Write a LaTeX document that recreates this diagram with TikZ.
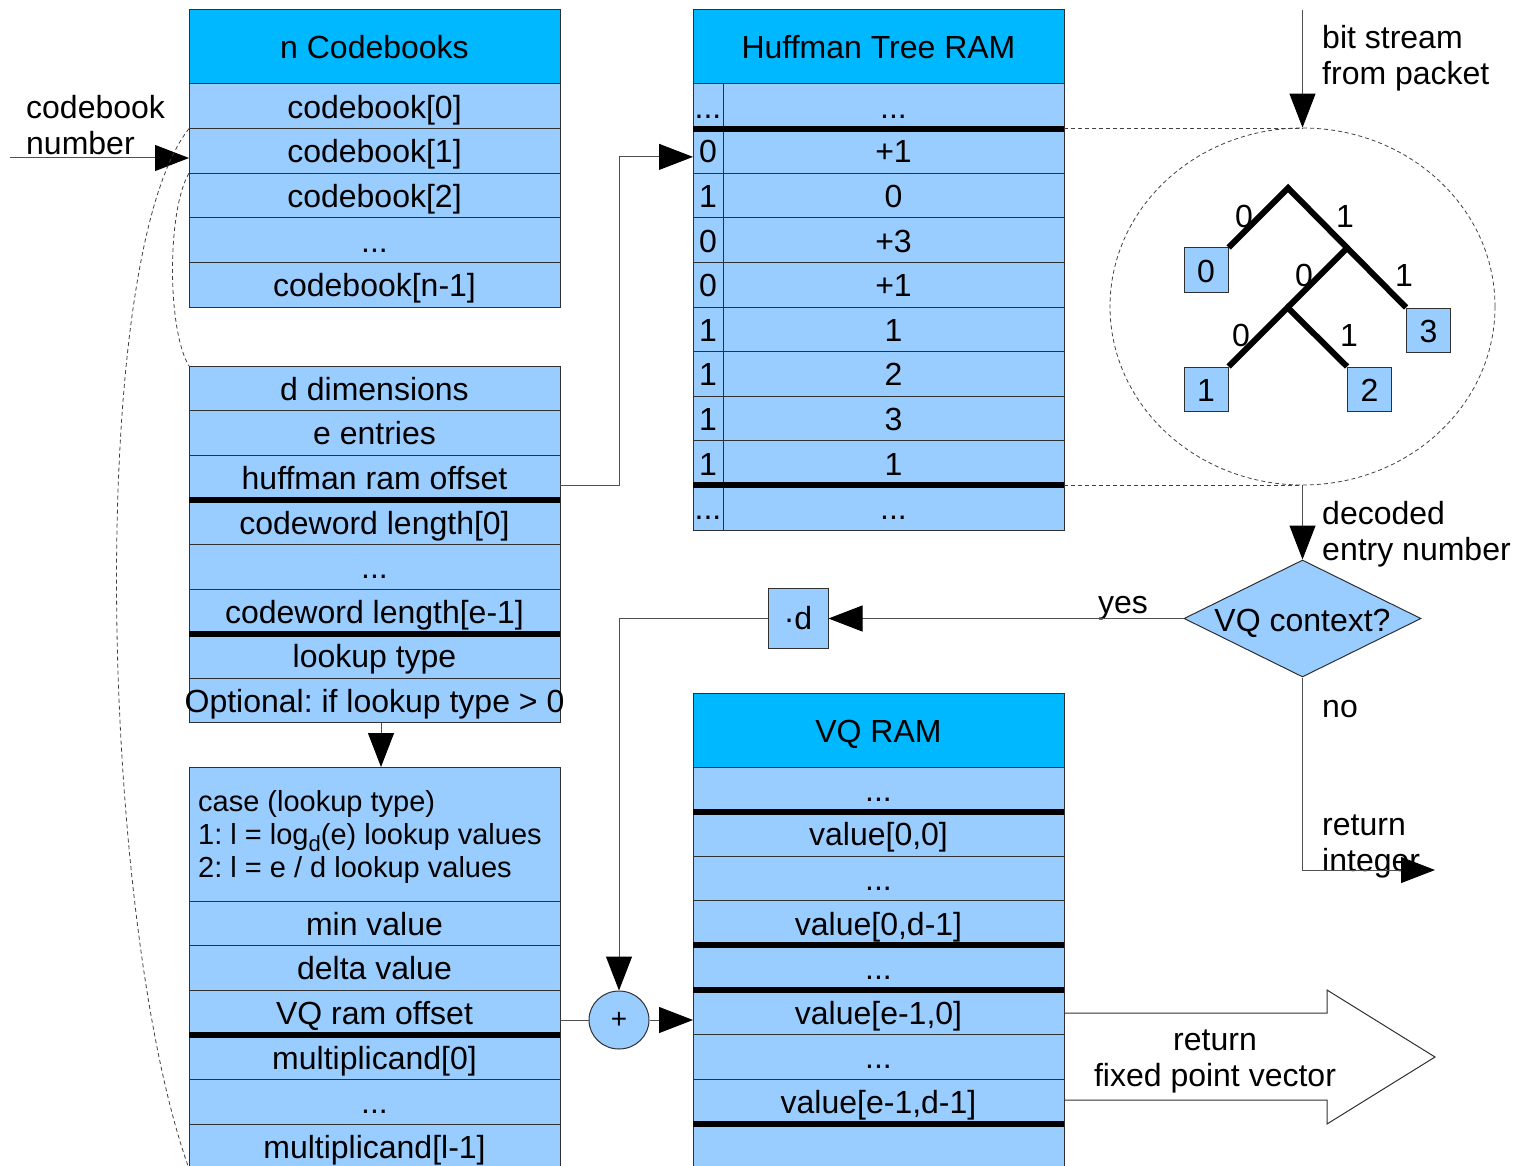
\documentclass[tikz,border=0pt]{standalone}
\usepackage{fontspec}
\setmainfont{Liberation Sans}
\frenchspacing
\usetikzlibrary{arrows.meta,shapes.geometric}
\definecolor{headc}{HTML}{00B8FF}
\definecolor{rowc}{HTML}{99CCFF}
\definecolor{linec}{HTML}{303030}
\definecolor{connc}{HTML}{505050}
\newcommand\cellnode[6]{\node[cell, minimum width=#4pt, minimum height=#5pt] (#1) at (#2,#3) {#6};}
\newcommand\sepline[2]{\draw[sepbar] (#1.south west) -- (#2.south east);}
\begin{document}
\begin{tikzpicture}[x=1pt,y=-1pt,
  every node/.style={font=\fontsize{32}{36}\selectfont, text=black},
  cell/.style={draw=linec, line width=1pt, fill=rowc, inner sep=0pt, outer sep=0pt, anchor=north west, text height=27pt, text depth=3pt},
  headcell/.style={cell, fill=headc},
  sepbar/.style={line width=6pt, black, line cap=butt},
  conn/.style={draw=connc, line width=1pt},
  arr/.style={-{Triangle[length=34pt,width=26pt,color=black,fill=black]}},
  dashln/.style={draw=black!75, line width=0.8pt, dash pattern=on 4pt off 3pt},
  lbl/.style={inner sep=0pt, align=left},
  leaf/.style={draw=linec, line width=1pt, fill=rowc, inner sep=0pt, minimum width=44pt, minimum height=44pt, text height=26pt, text depth=2pt},
  branch/.style={line width=6pt, black},
]
\useasboundingbox (0,0) rectangle (1514,1166);

% ---------- n Codebooks ----------
\node[headcell, minimum width=371pt, minimum height=74pt] (cbh) at (189,10) {n Codebooks};
\cellnode{cb0}{189}{84}{371}{44.6}{codebook[0]}
\cellnode{cb1}{189}{128.6}{371}{44.6}{codebook[1]}
\cellnode{cb2}{189}{173.2}{371}{44.6}{codebook[2]}
\cellnode{cb3}{189}{217.8}{371}{44.6}{...}
\cellnode{cb4}{189}{262.4}{371}{44.6}{codebook[n-1]}

% ---------- codebook details ----------
\cellnode{dd0}{189}{366}{371}{44.6}{d dimensions}
\cellnode{dd1}{189}{410.6}{371}{44.6}{e entries}
\cellnode{dd2}{189}{455.2}{371}{44.6}{huffman ram offset}
\cellnode{dd3}{189}{499.8}{371}{44.6}{codeword length[0]}
\cellnode{dd4}{189}{544.4}{371}{44.6}{...}
\cellnode{dd5}{189}{589}{371}{44.6}{codeword length[e-1]}
\cellnode{dd6}{189}{633.6}{371}{44.6}{lookup type}
\cellnode{dd7}{189}{678.2}{371}{44.6}{\makebox[0pt]{Optional: if lookup type > 0}}
\sepline{dd2}{dd2}
\sepline{dd5}{dd5}

% ---------- lookup table ----------
\cellnode{t0}{189}{767}{371}{134}{}
\node[lbl, anchor=west, font=\fontsize{29}{33}\selectfont] (casetxt) at (198,837)
  {case (lookup type)\\1: l = log\raisebox{-7pt}{\fontsize{22}{22}\selectfont d}(e) lookup values\\2: l = e / d lookup values};
\cellnode{t1}{189}{901}{371}{44.6}{min value}
\cellnode{t2}{189}{945.6}{371}{44.6}{delta value}
\cellnode{t3}{189}{990.2}{371}{44.6}{VQ ram offset}
\cellnode{t4}{189}{1034.8}{371}{44.6}{multiplicand[0]}
\cellnode{t5}{189}{1079.4}{371}{44.6}{...}
\cellnode{t6}{189}{1124}{371}{44.6}{multiplicand[l-1]}
\sepline{t3}{t3}

% ---------- Huffman Tree RAM ----------
\node[headcell, minimum width=371pt, minimum height=74pt] (hh) at (693,10) {Huffman Tree RAM};
\cellnode{hl0}{693}{84}{30}{44.6}{...}
\cellnode{hr0}{723}{84}{341}{44.6}{...}
\cellnode{hl1}{693}{128.6}{30}{44.6}{0}
\cellnode{hr1}{723}{128.6}{341}{44.6}{+1}
\cellnode{hl2}{693}{173.2}{30}{44.6}{1}
\cellnode{hr2}{723}{173.2}{341}{44.6}{0}
\cellnode{hl3}{693}{217.8}{30}{44.6}{0}
\cellnode{hr3}{723}{217.8}{341}{44.6}{+3}
\cellnode{hl4}{693}{262.4}{30}{44.6}{0}
\cellnode{hr4}{723}{262.4}{341}{44.6}{+1}
\cellnode{hl5}{693}{307}{30}{44.6}{1}
\cellnode{hr5}{723}{307}{341}{44.6}{1}
\cellnode{hl6}{693}{351.6}{30}{44.6}{1}
\cellnode{hr6}{723}{351.6}{341}{44.6}{2}
\cellnode{hl7}{693}{396.2}{30}{44.6}{1}
\cellnode{hr7}{723}{396.2}{341}{44.6}{3}
\cellnode{hl8}{693}{440.8}{30}{44.6}{1}
\cellnode{hr8}{723}{440.8}{341}{44.6}{1}
\cellnode{hl9}{693}{485.4}{30}{44.6}{...}
\cellnode{hr9}{723}{485.4}{341}{44.6}{...}
\sepline{hl0}{hr0}
\sepline{hl8}{hr8}

% ---------- VQ RAM ----------
\node[headcell, minimum width=371pt, minimum height=74pt] (vh) at (693,693) {VQ RAM};
\cellnode{v0}{693}{767}{371}{44.6}{...}
\cellnode{v1}{693}{811.6}{371}{44.6}{value[0,0]}
\cellnode{v2}{693}{856.2}{371}{44.6}{...}
\cellnode{v3}{693}{900.8}{371}{44.6}{value[0,d-1]}
\cellnode{v4}{693}{945.4}{371}{44.6}{...}
\cellnode{v5}{693}{990}{371}{44.6}{value[e-1,0]}
\cellnode{v6}{693}{1034.6}{371}{44.6}{...}
\cellnode{v7}{693}{1079.2}{371}{44.6}{value[e-1,d-1]}
\cellnode{v8}{693}{1123.8}{371}{44.6}{}
\sepline{v0}{v0}
\sepline{v3}{v3}
\sepline{v4}{v4}
\sepline{v7}{v7}

% ---------- tree ----------
\node[ellipse, dashln, minimum width=385pt, minimum height=357pt, inner sep=0pt] (treecirc) at (1302.5,306.5) {};
\node[leaf] (lf0) at (1206,270) {0};
\node[leaf] (lf3) at (1428.5,330) {3};
\node[leaf] (lf1) at (1206,389) {1};
\node[leaf] (lf2) at (1369.5,389) {2};
\coordinate (troot) at (1288,188);
\coordinate (tmid) at (1347.5,247.5);
\coordinate (tsub) at (1287.5,307.5);
\draw[branch] (lf0.north east) -- (troot) -- (lf3.north west);
\draw[branch] (tmid) -- (tsub);
\draw[branch] (lf1.north east) -- (tsub) -- (lf2.north west);
\node[lbl] (e1) at (1244,216) {0};
\node[lbl] (e2) at (1345,216) {1};
\node[lbl] (e3) at (1304,275) {0};
\node[lbl] (e4) at (1404,275) {1};
\node[lbl] (e5) at (1241,335) {0};
\node[lbl] (e6) at (1349,335) {1};

% ---------- decision and operators ----------
\node[diamond, draw=linec, line width=1pt, fill=rowc, aspect=2, inner sep=0pt, text height=26pt, text depth=1pt, minimum width=237pt, minimum height=117pt] (vqc) at (1302.5,618.5) {VQ context?};
\node[draw=linec, line width=1pt, fill=rowc, minimum width=60pt, minimum height=60pt, inner sep=0pt] (md) at (798,618.5) {·d};
\node[ellipse, draw=linec, line width=1pt, fill=rowc, minimum width=60pt, minimum height=58pt, inner sep=0pt, font=\fontsize{28}{30}\selectfont] (plus) at (619,1020) {+};

% ---------- big output arrow ----------
\draw[draw=linec, line width=1pt] (1064,1013) -- (1327,1013) -- (1327,990) -- (1435,1057) -- (1327,1124) -- (1327,1100) -- (1064,1100);
\node[lbl, align=center] (rfv) at (1215,1061) {return\\fixed point vector};

% ---------- labels ----------
\node[lbl, anchor=west] (cbnum) at (26,125) {codebook\\number};
\node[lbl, anchor=west] (bsl) at (1322,58) {bit stream\\from packet};
\node[lbl, anchor=west] (del) at (1322,534) {decoded\\entry number};
\node[lbl] (yesl) at (1123,608) {yes};
\node[lbl, anchor=west] (nol) at (1322,709) {no};
\node[lbl, anchor=west] (ril) at (1322,846) {return\\integer};

% ---------- connectors ----------
\coordinate (cbin) at (10,158);
\draw[conn, arr] (cbin) -- (cbin -| cb1.west);
\draw[dashln] (cb1.north west) .. controls (85,260) and (100,920) .. (t6.south west);
\draw[dashln] (cb1.south west) .. controls (167,210) and (167,330) .. (dd0.north west);
\draw[conn, arr] ([yshift=-7.5pt]dd2.east) -- ++(59,0) |- ([yshift=-6pt]hl1.west);
\draw[dashln] (hr0.south east) -- (hr0.south east -| treecirc.north);
\draw[dashln] (hr8.south east) -- (hr8.south east -| treecirc.south);
\coordinate (bsin) at (1302.5,10);
\draw[conn, arr] (bsin) -- (treecirc.north);
\draw[conn, arr] (treecirc.south) -- (vqc.north);
\draw[conn, arr] (vqc.west) -- (md.east);
\draw[conn, arr] (md.west) -| (plus.north);
\draw[conn] (t3.east |- plus.west) -- (plus.west);
\draw[conn, arr] (plus.east) -- (plus.east -| v5.west);
\coordinate (noend) at (1435,870);
\draw[conn, arr] (vqc.south) |- (noend);
\draw[conn, arr] ([xshift=6.5pt]dd7.south) -- ([xshift=6.5pt]t0.north);
\end{tikzpicture}
\end{document}
